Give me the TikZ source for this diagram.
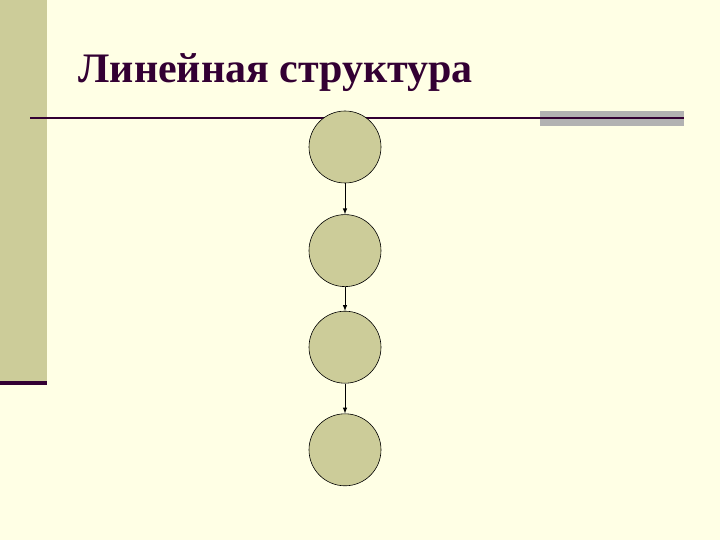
\documentclass[tikz,border=0pt]{standalone}
\usepackage{fontspec}
\setmainfont{Liberation Serif}
\usepackage{xcolor}
\usepackage{tikz}
\usetikzlibrary{arrows,shapes.geometric,positioning}

\definecolor{paper}{RGB}{255,255,229}
\definecolor{olive}{RGB}{204,204,153}
\definecolor{plum}{RGB}{51,0,51}
\definecolor{greybar}{RGB}{178,178,178}

\tikzset{
  elem/.style={circle, draw=black, line width=0.6pt, fill=olive, minimum size=72pt, inner sep=0pt},
  link/.style={->, >=latex, line width=1pt, black}
}

\begin{document}
\begin{tikzpicture}[x=1pt, y=-1pt]
%
\fill[paper] (0,0) rectangle (720,540);
\useasboundingbox (0,0) rectangle (720,540);
%
\fill[olive] (0,0) rectangle (47,382);
\fill[plum] (0,381) rectangle (47,385);
\fill[greybar] (540,111) rectangle (684,126);
%
\coordinate (L1) at (30,118);
\coordinate (L2) at (684,118);
\draw[plum, line width=1.6pt] (L1) -- (L2);
%
\node (title) [anchor=base west, text=plum, font=\fontsize{42}{46}\selectfont\bfseries] at (75,83) {Линейная структура};
%
\node (n1) [elem] at (345,147) {};
\node (n2) [elem, below=31pt of n1] {};
\node (n3) [elem, below=24pt of n2] {};
\node (n4) [elem, below=30pt of n3] {};
%
\path (n1) edge[link] (n2);
\path (n2) edge[link] (n3);
\path (n3) edge[link] (n4);
\end{tikzpicture}
\end{document}
